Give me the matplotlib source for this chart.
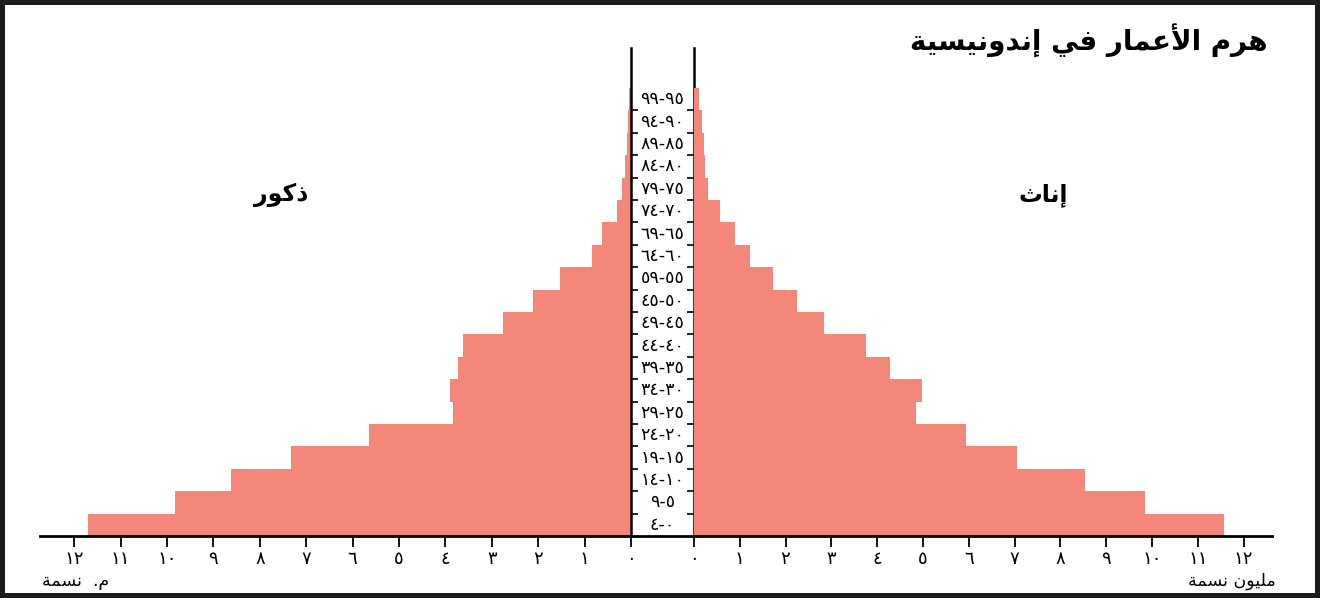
import matplotlib
matplotlib.use("Agg")
import matplotlib.pyplot as plt


# Age groups (bottom to top), as printed in the chart
age_labels = ["٤-٠", "٩-٥", "١٤-١٠", "١٩-١٥", "٢٤-٢٠", "٢٩-٢٥", "٣٤-٣٠",
              "٣٩-٣٥", "٤٤-٤٠", "٤٩-٤٥", "٤٥-٥٠", "٥٩-٥٥", "٦٤-٦٠",
              "٦٩-٦٥", "٧٤-٧٠", "٧٩-٧٥", "٨٤-٨٠", "٨٩-٨٥", "٩٤-٩٠", "٩٩-٩٥"]

# Population in millions (bottom to top)
males = [11.70, 9.83, 8.62, 7.33, 5.65, 3.84, 3.90, 3.73, 3.62, 2.76,
         2.11, 1.53, 0.84, 0.62, 0.30, 0.19, 0.13, 0.09, 0.06, 0.04]
females = [11.57, 9.85, 8.54, 7.05, 5.94, 4.85, 4.98, 4.28, 3.76, 2.84,
           2.25, 1.72, 1.22, 0.90, 0.57, 0.31, 0.24, 0.22, 0.17, 0.11]

tick_values = list(range(13))
tick_labels = ["٠", "١", "٢", "٣", "٤", "٥", "٦", "٧", "٨", "٩", "١٠", "١١", "١٢"]

title_text = "هرم الأعمار في إندونيسية"
male_text = "ذكور"
female_text = "إناث"
left_unit = "م.  نسمة"
right_unit = "مليون نسمة"


# minimal Arabic shaping (matplotlib has no text shaping / bidi)
DUAL = {'ث': 0xFE99, 'س': 0xFEB1, 'ع': 0xFEC9, 'ف': 0xFED1, 'ك': 0xFED9,
        'ل': 0xFEDD, 'م': 0xFEE1, 'ن': 0xFEE5, 'ه': 0xFEE9, 'ي': 0xFEF1}
RIGHT = {'ا': 0xFE8D, 'أ': 0xFE83, 'إ': 0xFE87, 'ة': 0xFE93, 'د': 0xFEA9,
         'ذ': 0xFEAB, 'ر': 0xFEAD, 'و': 0xFEED}
LAM_ALEF = {'ا': 0xFEFB, 'أ': 0xFEF7, 'إ': 0xFEF9}


def ar(s):
    out = []
    prev = None
    i = 0
    while i < len(s):
        c = s[i]
        nxt = s[i + 1] if i + 1 < len(s) else None
        joins_prev = prev in DUAL
        if c == 'ل' and nxt in LAM_ALEF:
            out.append(chr(LAM_ALEF[nxt] + (1 if joins_prev else 0)))
            prev = 'ا'
            i += 2
            continue
        if c in DUAL:
            joins_next = nxt in DUAL or nxt in RIGHT
            base = DUAL[c]
            if joins_prev and joins_next:
                out.append(chr(base + 3))
            elif joins_prev:
                out.append(chr(base + 1))
            elif joins_next:
                out.append(chr(base + 2))
            else:
                out.append(chr(base))
        elif c in RIGHT:
            out.append(chr(RIGHT[c] + (1 if joins_prev else 0)))
        else:
            out.append(c)
        prev = c
        i += 1
    return "".join(reversed(out))


W, H = 1320, 598
bar_color = "#F4877A"
px_left = 46.4     # pixels per million, left side
px_right = 45.8
row_px = 22.4

fig = plt.figure(figsize=(W / 100, H / 100), dpi=100)
fig.patch.set_edgecolor("#1c1c1c")
fig.patch.set_linewidth(6)


def box(x0, y0, x1, y1):
    return [x0 / W, 1 - y1 / H, (x1 - x0) / W, (y1 - y0) / H]


top, base = 48, 536
ylim = (0, (base - top) / row_px)
rows = range(len(age_labels))

ax_l = fig.add_axes(box(40, top, 631, base))
ax_c = fig.add_axes(box(631, top, 694, base))
ax_r = fig.add_axes(box(694, top, 1272, base))

ax_l.barh(rows, males, height=1, align="edge", color=bar_color)
ax_r.barh(rows, females, height=1, align="edge", color=bar_color)
ax_l.set_xlim((631 - 40) / px_left, 0)
ax_r.set_xlim(0, (1272 - 694) / px_right)

for ax in (ax_l, ax_c, ax_r):
    ax.set_ylim(*ylim)
    ax.patch.set_alpha(0)
    for sp in ax.spines.values():
        sp.set_visible(False)
    ax.spines["bottom"].set_visible(True)
    ax.spines["bottom"].set_linewidth(2)

for ax in (ax_l, ax_r):
    ax.set_yticks([])
    ax.set_xticks(tick_values)
    ax.set_xticklabels(tick_labels)
    ax.tick_params(axis="x", direction="out", length=8, width=1.3,
                   labelsize=13, pad=2)

# centre column with the age groups
ax_c.set_xlim(0, 1)
ax_c.set_xticks([])
ax_c.spines["left"].set_visible(True)
ax_c.spines["right"].set_visible(True)
ax_c.spines["left"].set_linewidth(1.8)
ax_c.spines["right"].set_linewidth(1.8)
ax_c.set_yticks(range(1, len(age_labels)))
ax_c.tick_params(axis="y", direction="in", length=5, width=1.2,
                 left=True, right=True, labelleft=False)
for i, lab in enumerate(age_labels):
    ax_c.text(0.5, i + 0.5, lab, ha="center", va="center", fontsize=12.5)

fig.text(1268 / W, 1 - 40 / H, ar(title_text), ha="right", va="center",
         fontsize=20, fontweight="bold")
fig.text(281 / W, 1 - 195 / H, ar(male_text), ha="center", va="center",
         fontsize=17, fontweight="bold")
fig.text(1043 / W, 1 - 195 / H, ar(female_text), ha="center", va="center",
         fontsize=17, fontweight="bold")
fig.text(42 / W, 1 - 581 / H, ar(left_unit), ha="left", va="center",
         fontsize=12.5)
fig.text(1276 / W, 1 - 581 / H, ar(right_unit), ha="right", va="center",
         fontsize=12.5)

fig.savefig("out.png", dpi=100, edgecolor=fig.get_edgecolor())
